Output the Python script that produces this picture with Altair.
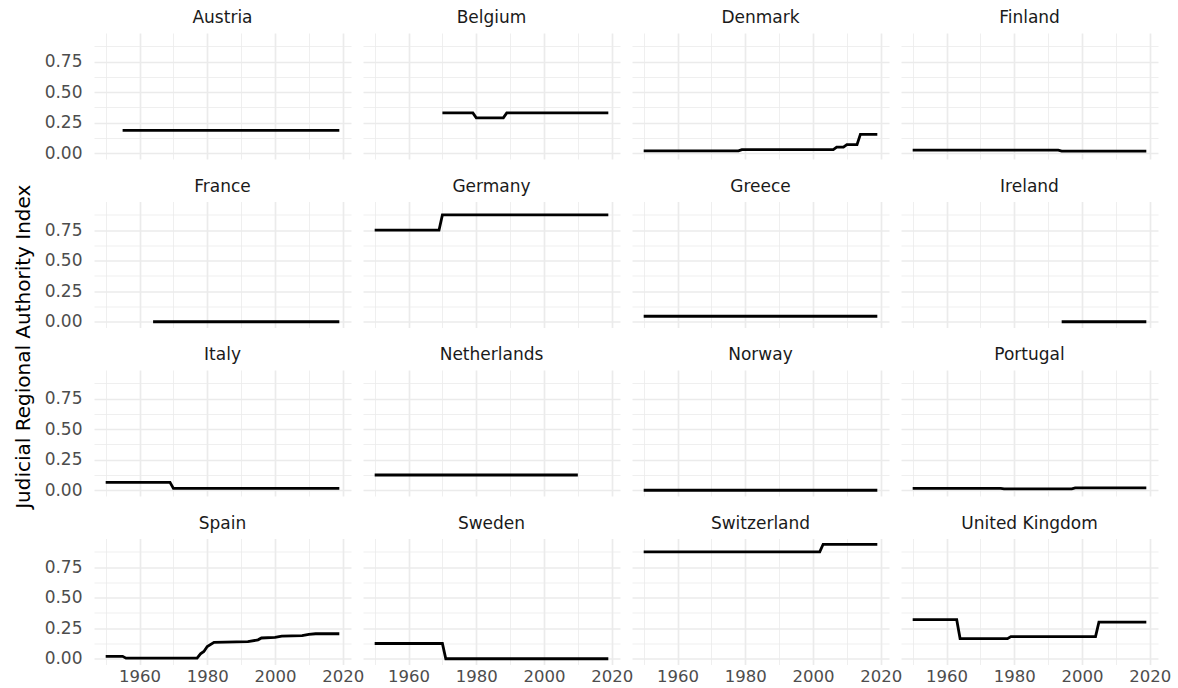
import altair as alt
import pandas as pd

# Judicial regional authority index by country: (year, value) vertices of each series
countries = [
    "Austria", "Belgium", "Denmark", "Finland",
    "France", "Germany", "Greece", "Ireland",
    "Italy", "Netherlands", "Norway", "Portugal",
    "Spain", "Sweden", "Switzerland", "United Kingdom",
]

austria_years = [1955, 2019]
austria_vals = [0.1875, 0.1875]

belgium_years = [1970, 1979, 1980, 1988, 1989, 2019]
belgium_vals = [0.33, 0.33, 0.29, 0.29, 0.33, 0.33]

denmark_years = [1950, 1978, 1979, 2006, 2007, 2009, 2010, 2013, 2014, 2019]
denmark_vals = [0.02, 0.02, 0.03, 0.03, 0.05, 0.05, 0.07, 0.07, 0.155, 0.155]

finland_years = [1950, 1993, 1994, 2019]
finland_vals = [0.025, 0.025, 0.018, 0.018]

france_years = [1964, 2019]
france_vals = [0.0, 0.0]

germany_years = [1950, 1969, 1970, 2019]
germany_vals = [0.75, 0.75, 0.875, 0.875]

greece_years = [1950, 2019]
greece_vals = [0.045, 0.045]

ireland_years = [1994, 2019]
ireland_vals = [0.0, 0.0]

italy_years = [1950, 1969, 1970, 2019]
italy_vals = [0.065, 0.065, 0.015, 0.015]

netherlands_years = [1950, 2010]
netherlands_vals = [0.125, 0.125]

norway_years = [1950, 2019]
norway_vals = [0.0, 0.0]

portugal_years = [1950, 1976, 1977, 1997, 1998, 2019]
portugal_vals = [0.016, 0.016, 0.012, 0.012, 0.02, 0.02]

spain_years = [1950, 1955, 1956, 1977, 1978, 1979, 1980, 1982, 1992, 1995, 1996,
               2000, 2002, 2008, 2010, 2012, 2019]
spain_vals = [0.02, 0.02, 0.005, 0.005, 0.04, 0.06, 0.10, 0.135, 0.14, 0.155, 0.17,
              0.175, 0.185, 0.19, 0.20, 0.205, 0.205]

sweden_years = [1950, 1970, 1971, 2019]
sweden_vals = [0.125, 0.125, 0.0, 0.0]

switzerland_years = [1950, 2002, 2003, 2019]
switzerland_vals = [0.875, 0.875, 0.9375, 0.9375]

uk_years = [1950, 1963, 1964, 1978, 1979, 2004, 2005, 2019]
uk_vals = [0.32, 0.32, 0.165, 0.165, 0.182, 0.182, 0.30, 0.30]

series = {
    "Austria": (austria_years, austria_vals),
    "Belgium": (belgium_years, belgium_vals),
    "Denmark": (denmark_years, denmark_vals),
    "Finland": (finland_years, finland_vals),
    "France": (france_years, france_vals),
    "Germany": (germany_years, germany_vals),
    "Greece": (greece_years, greece_vals),
    "Ireland": (ireland_years, ireland_vals),
    "Italy": (italy_years, italy_vals),
    "Netherlands": (netherlands_years, netherlands_vals),
    "Norway": (norway_years, norway_vals),
    "Portugal": (portugal_years, portugal_vals),
    "Spain": (spain_years, spain_vals),
    "Sweden": (sweden_years, sweden_vals),
    "Switzerland": (switzerland_years, switzerland_vals),
    "United Kingdom": (uk_years, uk_vals),
}

x_ticks = [1950, 1960, 1970, 1980, 1990, 2000, 2010, 2020]
y_ticks = [0, 0.125, 0.25, 0.375, 0.5, 0.625, 0.75, 0.875]

rows = []
for c in countries:
    ys, vs = series[c]
    for y, v in zip(ys, vs):
        rows.append({"country": c, "year": y, "value": v})
df = pd.DataFrame(rows)

FONT = "DejaVu Sans"
GRID = "#EBEBEB"
X_MAJOR = "datum.value % 20 == 0"
Y_MAJOR = "round(datum.value * 8) % 2 == 0"

x_axis = alt.Axis(
    values=x_ticks,
    labelExpr=f"{X_MAJOR} ? datum.label : ''",
    format="d",
    title=None,
    ticks=False,
    domain=False,
    grid=True,
    gridColor=GRID,
    gridWidth={"condition": {"test": X_MAJOR, "value": 1.7}, "value": 0.8},
    labelFontSize=16.5,
    labelColor="#4D4D4D",
    labelFont=FONT,
    labelPadding=3,
    labelOverlap=False,
    labelFlush=False,
)

y_axis = alt.Axis(
    values=y_ticks,
    labelExpr=f"{Y_MAJOR} ? format(datum.value, '.2f') : ''",
    title=None,
    ticks=False,
    domain=False,
    grid=True,
    gridColor=GRID,
    gridWidth={"condition": {"test": Y_MAJOR, "value": 1.7}, "value": 0.8},
    labelFontSize=17,
    labelColor="#4D4D4D",
    labelFont=FONT,
    labelPadding=12,
    labelOverlap=False,
)

chart = (
    alt.Chart(df)
    .mark_line(color="black", strokeWidth=2.8, strokeJoin="miter", strokeCap="butt")
    .encode(
        x=alt.X("year:Q", axis=x_axis,
                scale=alt.Scale(domain=[1946.55, 2022.45], nice=False, zero=False)),
        y=alt.Y("value:Q", axis=y_axis,
                scale=alt.Scale(domain=[-0.047, 0.985], nice=False, zero=False)),
        detail="country:N",
    )
    .properties(width=257, height=126)
    .facet(
        facet=alt.Facet(
            "country:N",
            sort=countries,
            header=alt.Header(
                title=None,
                labelFontSize=17,
                labelColor="#1A1A1A",
                labelFont=FONT,
                labelPadding=6,
            ),
        ),
        columns=4,
        spacing={"row": 18.5, "column": 12},
        title=alt.TitleParams(
            text="Judicial Regional Authority Index",
            orient="left",
            anchor="middle",
            fontSize=20,
            font=FONT,
            fontWeight="normal",
            color="#000000",
            offset=10,
        ),
    )
    .configure_view(stroke=None)
    .properties(padding={"left": 14, "top": 9, "right": 2, "bottom": 0}, background="white")
)

chart.save("out.html", embed_options={"renderer": "svg", "actions": False})
